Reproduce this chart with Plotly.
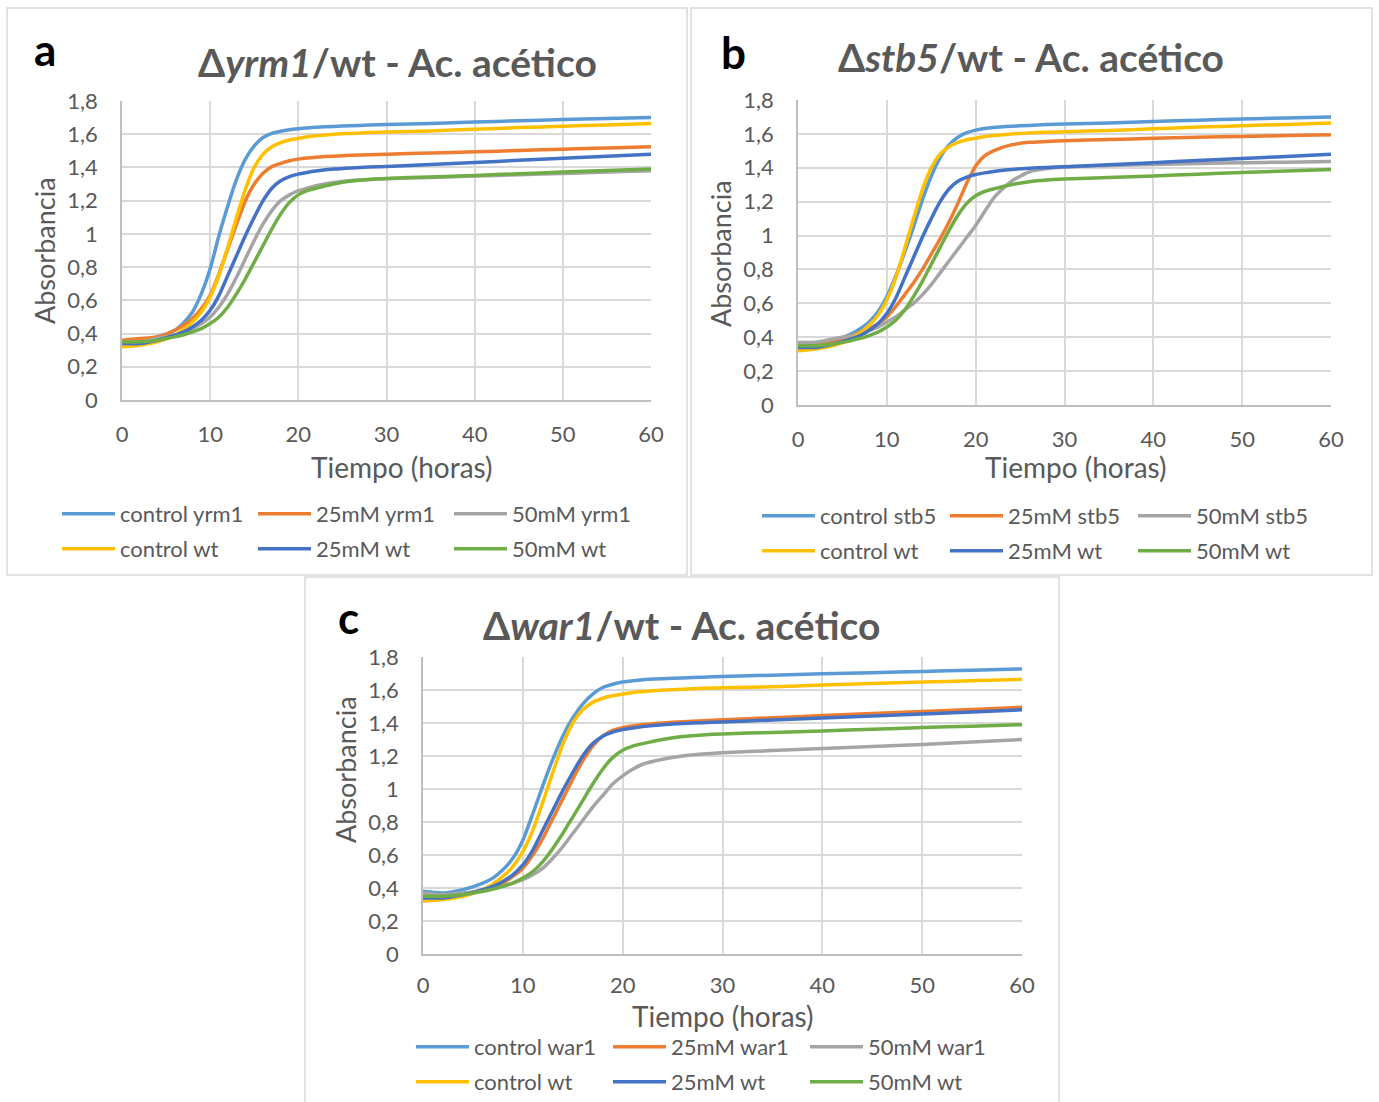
import plotly.graph_objects as go

# ---------------- data ----------------
hours = [0, 2, 4, 6, 7, 8, 9, 10, 11, 12, 13, 14, 15, 16, 17, 18, 19, 20, 21, 22, 24, 26, 28, 30, 35, 40, 45, 50, 55, 60]

control_wt = [0.32, 0.33, 0.35, 0.39, 0.425, 0.47, 0.53, 0.62, 0.75, 0.92, 1.10, 1.27, 1.40, 1.48, 1.525, 1.55, 1.565, 1.575, 1.585, 1.59, 1.60, 1.605, 1.61, 1.613, 1.62, 1.63, 1.64, 1.648, 1.656, 1.665]
mm25_wt = [0.34, 0.34, 0.36, 0.39, 0.41, 0.44, 0.48, 0.54, 0.63, 0.75, 0.87, 0.99, 1.10, 1.20, 1.275, 1.32, 1.345, 1.36, 1.37, 1.378, 1.39, 1.397, 1.402, 1.406, 1.418, 1.43, 1.443, 1.455, 1.467, 1.48]
mm50_wt = [0.35, 0.35, 0.36, 0.38, 0.393, 0.41, 0.43, 0.46, 0.50, 0.56, 0.64, 0.73, 0.83, 0.93, 1.03, 1.12, 1.19, 1.235, 1.26, 1.275, 1.30, 1.318, 1.328, 1.334, 1.343, 1.352, 1.362, 1.372, 1.381, 1.39]

control_yrm1 = [0.35, 0.36, 0.38, 0.42, 0.465, 0.53, 0.64, 0.79, 0.99, 1.17, 1.33, 1.45, 1.53, 1.58, 1.605, 1.618, 1.627, 1.633, 1.638, 1.642, 1.647, 1.651, 1.655, 1.658, 1.665, 1.673, 1.681, 1.688, 1.694, 1.70]
mm25_yrm1 = [0.36, 0.37, 0.38, 0.42, 0.45, 0.49, 0.55, 0.63, 0.76, 0.91, 1.06, 1.20, 1.30, 1.365, 1.405, 1.425, 1.44, 1.45, 1.457, 1.462, 1.468, 1.473, 1.477, 1.48, 1.487, 1.494, 1.502, 1.51, 1.517, 1.525]
mm50_yrm1 = [0.35, 0.35, 0.37, 0.39, 0.405, 0.43, 0.46, 0.50, 0.56, 0.64, 0.74, 0.85, 0.96, 1.06, 1.14, 1.20, 1.235, 1.26, 1.275, 1.29, 1.31, 1.322, 1.328, 1.332, 1.34, 1.348, 1.356, 1.364, 1.372, 1.38]

control_stb5 = [0.34, 0.35, 0.38, 0.42, 0.45, 0.49, 0.55, 0.64, 0.76, 0.90, 1.05, 1.21, 1.35, 1.46, 1.535, 1.58, 1.607, 1.622, 1.632, 1.638, 1.645, 1.65, 1.655, 1.658, 1.665, 1.673, 1.681, 1.688, 1.694, 1.70]
mm25_stb5 = [0.35, 0.36, 0.38, 0.41, 0.428, 0.45, 0.48, 0.52, 0.58, 0.65, 0.72, 0.80, 0.89, 0.98, 1.08, 1.19, 1.31, 1.41, 1.47, 1.50, 1.535, 1.55, 1.555, 1.56, 1.567, 1.574, 1.58, 1.585, 1.59, 1.595]
mm50_stb5 = [0.37, 0.37, 0.39, 0.41, 0.423, 0.44, 0.46, 0.49, 0.52, 0.56, 0.60, 0.65, 0.71, 0.78, 0.85, 0.92, 0.99, 1.06, 1.14, 1.22, 1.32, 1.375, 1.395, 1.405, 1.413, 1.42, 1.425, 1.43, 1.433, 1.437]

control_war1 = [0.38, 0.37, 0.39, 0.43, 0.46, 0.51, 0.58, 0.69, 0.85, 1.02, 1.18, 1.32, 1.43, 1.515, 1.575, 1.615, 1.635, 1.648, 1.656, 1.662, 1.668, 1.673, 1.678, 1.682, 1.69, 1.698, 1.705, 1.712, 1.72, 1.728]
mm25_war1 = [0.34, 0.34, 0.36, 0.39, 0.408, 0.43, 0.47, 0.52, 0.60, 0.70, 0.82, 0.94, 1.06, 1.17, 1.26, 1.32, 1.355, 1.372, 1.382, 1.39, 1.40, 1.408, 1.414, 1.42, 1.432, 1.445, 1.457, 1.47, 1.482, 1.495]
mm50_war1 = [0.37, 0.36, 0.37, 0.38, 0.393, 0.41, 0.43, 0.45, 0.48, 0.52, 0.58, 0.65, 0.73, 0.81, 0.89, 0.96, 1.03, 1.08, 1.12, 1.15, 1.18, 1.20, 1.212, 1.22, 1.233, 1.245, 1.258, 1.27, 1.285, 1.30]

y_ticks = [0, 0.2, 0.4, 0.6, 0.8, 1.0, 1.2, 1.4, 1.6, 1.8]
y_tick_labels = ["0", "0,2", "0,4", "0,6", "0,8", "1", "1,2", "1,4", "1,6", "1,8"]
x_ticks = [0, 10, 20, 30, 40, 50, 60]

# ---------------- styling ----------------
W, H = 1379, 1102
FONT = "Lato"
TXT = "#595959"
GRID = "#D9D9D9"
AXLINE = "#BFBFBF"
C_LBLUE, C_ORANGE, C_GRAY = "#5B9BD5", "#ED7D31", "#A5A5A5"
C_YELLOW, C_DBLUE, C_GREEN = "#FFC000", "#4472C4", "#70AD47"


def fx(p):
    return p / W


def fy(p):
    return 1 - p / H


panels = [
    dict(letter="a", mut="yrm1", sfx="", data=[control_yrm1, mm25_yrm1, mm50_yrm1],
         xd=(122, 651), yd=(101, 400), title_xy=(397, 62), letter_xy=(45, 49),
         xt_xy=(402, 467), yt_xy=(45, 250), xstand=14,
         leg_x=57, leg_y=(514, 549), entry=191, legs=("legend", "legend2")),
    dict(letter="b", mut="stb5", sfx="2", data=[control_stb5, mm25_stb5, mm50_stb5],
         xd=(798, 1331), yd=(100, 405), title_xy=(1031, 57), letter_xy=(733, 52),
         xt_xy=(1076, 467), yt_xy=(720, 253), xstand=14,
         leg_x=757, leg_y=(516, 551), entry=183, legs=("legend3", "legend4")),
    dict(letter="c", mut="war1", sfx="3", data=[control_war1, mm25_war1, mm50_war1],
         xd=(423, 1022), yd=(657, 954), title_xy=(681, 625), letter_xy=(349, 617),
         xt_xy=(723, 1016), yt_xy=(345, 770), xstand=11,
         leg_x=411, leg_y=(1047, 1082), entry=192, legs=("legend5", "legend6")),
]

fig = go.Figure()
layout = dict(
    width=W, height=H, margin=dict(l=0, r=0, t=0, b=0, autoexpand=False),
    paper_bgcolor="white", plot_bgcolor="white",
    font=dict(family=FONT, color=TXT),
    showlegend=True, annotations=[], shapes=[],
)

# panel frames
for (x0, y0, x1, y1) in [(7, 8, 687, 575), (691, 8, 1372, 575), (305, 577, 1059, 1110)]:
    layout["shapes"].append(dict(type="rect", xref="paper", yref="paper",
                                 x0=fx(x0), x1=fx(x1), y0=fy(y1), y1=fy(y0),
                                 line=dict(color=GRID, width=1.5), fillcolor="rgba(0,0,0,0)", layer="below"))

for p in panels:
    s = p["sfx"]
    xa, ya = "x" + s, "y" + s
    names_mut = [f"control {p['mut']}", f"25mM {p['mut']}", f"50mM {p['mut']}"]
    names_wt = ["control wt", "25mM wt", "50mM wt"]
    for name, vals, col in zip(names_mut, p["data"], [C_LBLUE, C_ORANGE, C_GRAY]):
        fig.add_trace(go.Scatter(x=hours, y=vals, name=name, mode="lines", xaxis=xa, yaxis=ya,
                                 line=dict(color=col, width=3.5, shape="spline", smoothing=0.6),
                                 legend=p["legs"][0]))
    for name, vals, col in zip(names_wt, [control_wt, mm25_wt, mm50_wt], [C_YELLOW, C_DBLUE, C_GREEN]):
        fig.add_trace(go.Scatter(x=hours, y=vals, name=name, mode="lines", xaxis=xa, yaxis=ya,
                                 line=dict(color=col, width=3.5, shape="spline", smoothing=0.6),
                                 legend=p["legs"][1]))

    xkey = "xaxis" + s
    ykey = "yaxis" + s
    layout[xkey] = dict(domain=[fx(p["xd"][0]), fx(p["xd"][1])], anchor=ya, range=[0, 60],
                        tickvals=x_ticks, showgrid=True, gridcolor=GRID, gridwidth=1.5,
                        showline=True, linecolor=AXLINE, linewidth=1.5, zeroline=False,
                        ticks="", ticklabelstandoff=p["xstand"], automargin=False,
                        tickfont=dict(family=FONT, size=22, color=TXT))
    layout[ykey] = dict(domain=[fy(p["yd"][1]), fy(p["yd"][0])], anchor=xa, range=[0, 1.8],
                        tickvals=y_ticks, ticktext=y_tick_labels, showgrid=True, gridcolor=GRID,
                        gridwidth=1.5, showline=True, linecolor=AXLINE, linewidth=1.5, zeroline=False,
                        ticks="", ticklabelstandoff=18, automargin=False,
                        tickfont=dict(family=FONT, size=22, color=TXT))

    # axis titles (placed where the reference draws them)
    ax_, ay_ = p["xt_xy"]
    layout["annotations"].append(dict(
        text="Tiempo (horas)", xref="paper", yref="paper", x=fx(ax_), y=fy(ay_),
        xanchor="center", yanchor="middle", showarrow=False,
        font=dict(family=FONT, size=28, color=TXT)))
    bx_, by_ = p["yt_xy"]
    layout["annotations"].append(dict(
        text="Absorbancia", xref="paper", yref="paper", x=fx(bx_), y=fy(by_),
        xanchor="center", yanchor="middle", showarrow=False, textangle=-90,
        font=dict(family=FONT, size=27, color=TXT)))

    # titles and panel letters
    tx, ty = p["title_xy"]
    layout["annotations"].append(dict(
        text=f"<b>Δ<i>{p['mut']}</i>/wt - Ac. acético</b>", xref="paper", yref="paper",
        x=fx(tx), y=fy(ty), xanchor="center", yanchor="middle", showarrow=False,
        font=dict(family=FONT, size=39, color=TXT)))
    lx, ly = p["letter_xy"]
    layout["annotations"].append(dict(
        text=f"<b>{p['letter']}</b>", xref="paper", yref="paper",
        x=fx(lx), y=fy(ly), xanchor="center", yanchor="middle", showarrow=False,
        font=dict(family=FONT, size=44, color="black")))

    for leg, ly_ in zip(p["legs"], p["leg_y"]):
        layout[leg] = dict(orientation="h", x=fx(p["leg_x"]), y=fy(ly_), xanchor="left",
                           yanchor="middle", xref="paper", yref="paper",
                           entrywidth=p["entry"] - 63, entrywidthmode="pixels", itemwidth=53,
                           font=dict(family=FONT, size=22, color=TXT),
                           bgcolor="rgba(0,0,0,0)", borderwidth=0,
                           itemclick=False, itemdoubleclick=False)

fig.update_layout(**layout)
fig.write_html("out.html",
               post_script="document.body.style.margin='0';document.body.style.overflow='hidden';")
